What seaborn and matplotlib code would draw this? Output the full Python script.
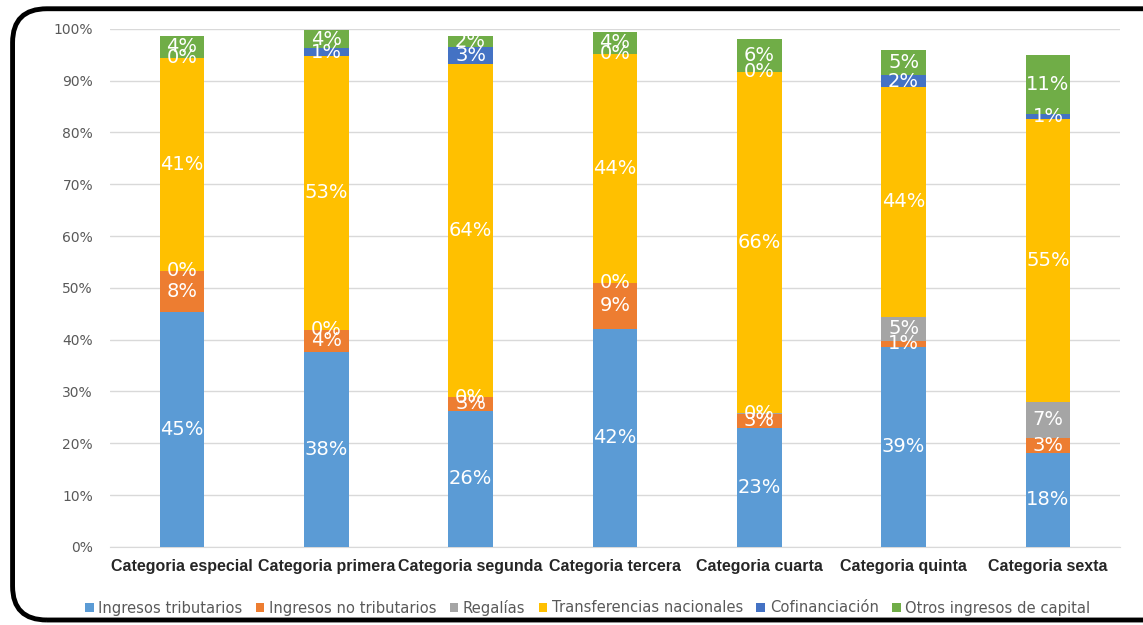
import numpy as np
import pandas as pd
import matplotlib
matplotlib.use("Agg")
import matplotlib.pyplot as plt
import seaborn as sns
from matplotlib.patches import FancyBboxPatch, Patch

# ===================== data =====================
categorias = ["Categoria especial", "Categoria primera", "Categoria segunda",
              "Categoria tercera", "Categoria cuarta", "Categoria quinta",
              "Categoria sexta"]
series = ["Ingresos tributarios", "Ingresos no tributarios", "Regalías",
          "Transferencias nacionales", "Cofinanciación", "Otros ingresos de capital"]

ingresos_tributarios = [45.4, 37.6, 26.3, 42.1, 23.0, 38.6, 18.1]
ingresos_no_tributarios = [7.9, 4.3, 2.6, 8.9, 2.6, 1.2, 2.9]
regalias = [0.0, 0.0, 0.0, 0.0, 0.3, 4.6, 7.0]
transferencias = [41.1, 52.9, 64.3, 44.2, 65.8, 44.4, 54.6]
cofinanciacion = [0.0, 1.4, 3.3, 0.0, 0.0, 2.2, 1.0]
otros_capital = [4.2, 3.6, 2.1, 4.2, 6.4, 4.9, 11.4]

colores = ["#5B9BD5", "#ED7D31", "#A5A5A5", "#FFC000", "#4472C4", "#70AD47"]

# ===================== table =====================
valores = np.array([ingresos_tributarios, ingresos_no_tributarios, regalias,
                    transferencias, cofinanciacion, otros_capital])
acumulado = valores.cumsum(axis=0)
df = pd.DataFrame({"categoria": categorias})
for i, s in enumerate(series):
    df[s] = acumulado[i]

sns.set_style("white")
plt.rcParams["font.family"] = ["DejaVu Sans"]

fig = plt.figure(figsize=(11.43, 6.25), dpi=100)
ax = fig.add_axes([0.096, 0.125, 0.884, 0.829])

# stacked bars: draw cumulative totals from top to bottom
for i in range(len(series) - 1, -1, -1):
    sns.barplot(data=df, x="categoria", y=series[i], color=colores[i],
                width=0.31, linewidth=0, saturation=1, ax=ax, zorder=3)

# labels in the middle of each segment
for j in range(len(categorias)):
    base = 0
    for i in range(len(series)):
        v = valores[i, j]
        ax.text(j, base + v / 2, f"{round(v):.0f}%", ha="center", va="center",
                color="white", fontsize=14, zorder=5)
        base += v

ax.set_ylim(0, 100)
ax.set_xlim(-0.5, len(categorias) - 0.5)
ax.set_yticks(np.arange(0, 101, 10))
ax.set_yticklabels([f"{t}%" for t in range(0, 101, 10)], color="#595959", fontsize=10)
ax.tick_params(axis="y", length=0, pad=12)
ax.tick_params(axis="x", length=0, pad=9)
for lab in ax.get_xticklabels():
    lab.set_fontweight("bold")
    lab.set_fontsize(11.5)
    lab.set_family(["Liberation Sans", "DejaVu Sans"])
ax.set_xlabel("")
ax.set_ylabel("")
ax.yaxis.grid(True, color="#D9D9D9", linewidth=1, zorder=0)
ax.set_axisbelow(True)
for sp in ["top", "right", "left"]:
    ax.spines[sp].set_visible(False)
ax.spines["bottom"].set_color("#D9D9D9")

handles = [Patch(facecolor=c, edgecolor="none") for c in colores]
leg = fig.legend(handles, series, loc="center", bbox_to_anchor=(0.514, 0.028), ncol=6,
                 frameon=False, fontsize=10.6, handlelength=0.6, handleheight=0.6,
                 handletextpad=0.3, columnspacing=0.9)
for t in leg.get_texts():
    t.set_color("#595959")

# rounded black border around the chart
borde = FancyBboxPatch((0.011, 0.008), 1.02, 0.978, boxstyle="round,pad=0,rounding_size=0.03",
                       transform=fig.transFigure, fill=False, edgecolor="black",
                       linewidth=3.5, mutation_aspect=1.8)
fig.patches.append(borde)

fig.savefig("out.png", dpi=100)
